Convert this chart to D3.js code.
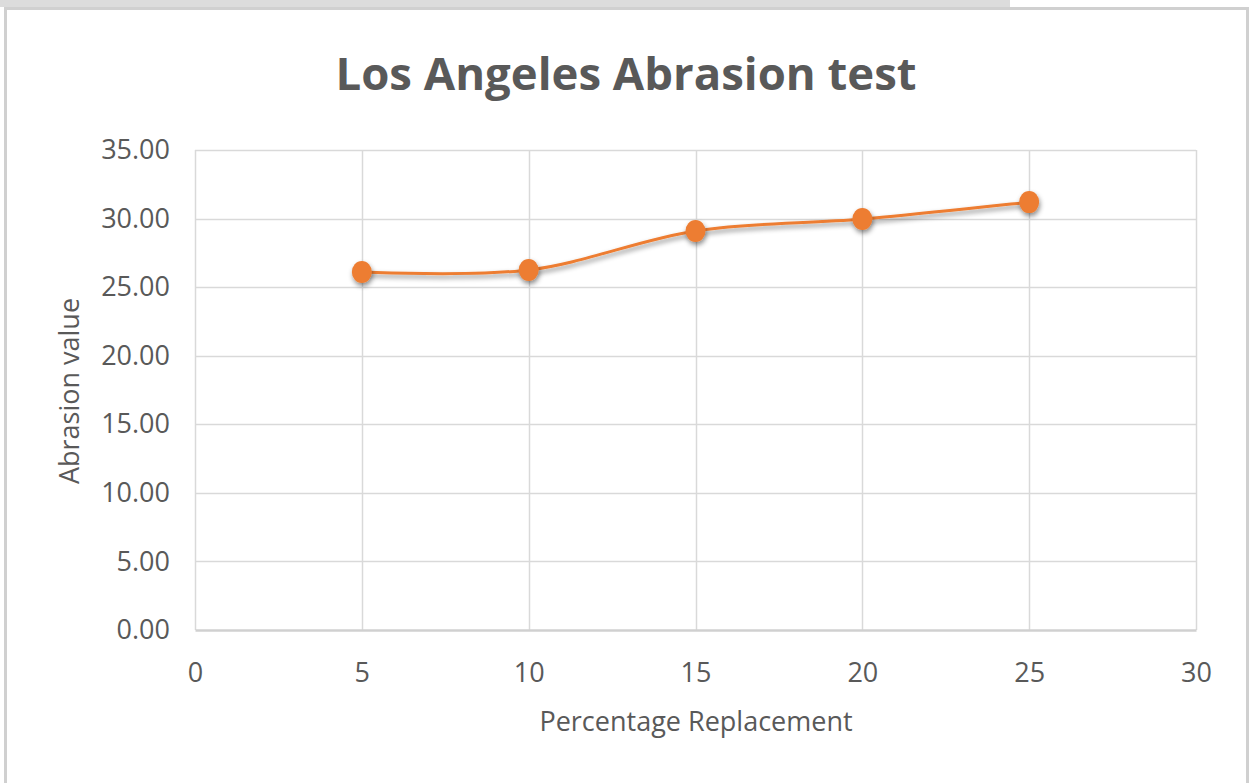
<!DOCTYPE html>
<html>
<head>
<meta charset="utf-8">
<script src="https://cdn.jsdelivr.net/npm/d3@7"></script>
<style>
  body { margin: 0; background: #fff; }
  text { font-family: "Open Sans", "Noto Sans", sans-serif; fill: #595959; }
</style>
</head>
<body>
<svg id="chart" width="1253" height="783"></svg>
<script>
// chart values
var replacement = [5, 10, 15, 20, 25];
var abrasion = [26.1, 26.25, 29.1, 29.97, 31.2];
var xTicks = [0, 5, 10, 15, 20, 25, 30];
var yTicks = [0, 5, 10, 15, 20, 25, 30, 35];

var svg = d3.select("#chart"),
    width = +svg.attr("width"),
    height = +svg.attr("height");

var orange = "#ED7D31";

// shadow for the series
var defs = svg.append("defs");
var shadow = defs.append("filter").attr("id", "shadow")
    .attr("x", "-50%").attr("y", "-50%").attr("width", "200%").attr("height", "200%");
shadow.append("feDropShadow")
    .attr("dx", 1).attr("dy", 3).attr("stdDeviation", 2.5)
    .attr("flood-color", "#000").attr("flood-opacity", 0.45);

// clipped caption strip at the top (page behind the chart)
svg.append("rect").attr("x", 0).attr("y", 0).attr("width", 1010).attr("height", 7).attr("fill", "#dcdcdc");

// chart frame
svg.append("rect")
    .attr("x", 5.5).attr("y", 8.5).attr("width", 1242).attr("height", 790)
    .attr("fill", "#fff").attr("stroke", "#d0d0d0").attr("stroke-width", 3);

var x = d3.scaleLinear().domain([0, 30]).range([195, 1196]);
var y = d3.scaleLinear().domain([0, 35]).range([630, 150]);

// gridlines
var g = svg.append("g");
g.append("g").selectAll("line").data(yTicks.slice(1)).enter().append("line")
    .attr("x1", x(0)).attr("x2", x(30))
    .attr("y1", function(d) { return Math.round(y(d)) + 0.5; })
    .attr("y2", function(d) { return Math.round(y(d)) + 0.5; })
    .attr("stroke", "#d9d9d9").attr("stroke-width", 1.5);
g.append("g").selectAll("line").data(xTicks).enter().append("line")
    .attr("x1", function(d) { return Math.round(x(d)) + 0.5; })
    .attr("x2", function(d) { return Math.round(x(d)) + 0.5; })
    .attr("y1", y(35)).attr("y2", y(0))
    .attr("stroke", "#d9d9d9").attr("stroke-width", 1.5);

// axes
var xAxis = d3.axisBottom(x).tickValues(xTicks).tickSize(0).tickPadding(33).tickFormat(d3.format("d"));
var gx = svg.append("g").attr("transform", "translate(0," + y(0) + ")").call(xAxis);
gx.select(".domain").attr("stroke", "#d0d0d0").attr("stroke-width", 2.5);
gx.selectAll("text").style("font-size", "27px").attr("fill", "#595959");

var yAxis = d3.axisLeft(y).tickValues(yTicks).tickSize(0).tickPadding(25).tickFormat(d3.format(".2f"));
var gy = svg.append("g").attr("transform", "translate(" + x(0) + ",0)").call(yAxis);
gy.select(".domain").remove();
gy.selectAll("text").style("font-size", "27px").attr("fill", "#595959");

// series
var line = d3.line()
    .x(function(d, i) { return x(replacement[i]); })
    .y(function(d) { return y(d); })
    .curve(d3.curveCatmullRom.alpha(0.5));

svg.append("path").datum(abrasion)
    .attr("d", line)
    .attr("fill", "none")
    .attr("stroke", orange).attr("stroke-width", 3)
    .attr("filter", "url(#shadow)");

svg.append("g").selectAll("ellipse").data(abrasion).enter().append("ellipse")
    .attr("cx", function(d, i) { return x(replacement[i]); })
    .attr("cy", function(d) { return y(d); })
    .attr("rx", 10).attr("ry", 11)
    .attr("fill", orange)
    .attr("filter", "url(#shadow)");

// titles
svg.append("text")
    .attr("x", 626).attr("y", 90)
    .attr("text-anchor", "middle")
    .style("font-size", "45.5px").style("font-weight", "bold")
    .text("Los Angeles Abrasion test");

svg.append("text")
    .attr("x", 696).attr("y", 731)
    .attr("text-anchor", "middle")
    .style("font-size", "27px")
    .text("Percentage Replacement");

svg.append("text")
    .attr("transform", "translate(79,391) rotate(-90)")
    .attr("text-anchor", "middle")
    .style("font-size", "27px")
    .text("Abrasion value");
</script>
</body>
</html>
